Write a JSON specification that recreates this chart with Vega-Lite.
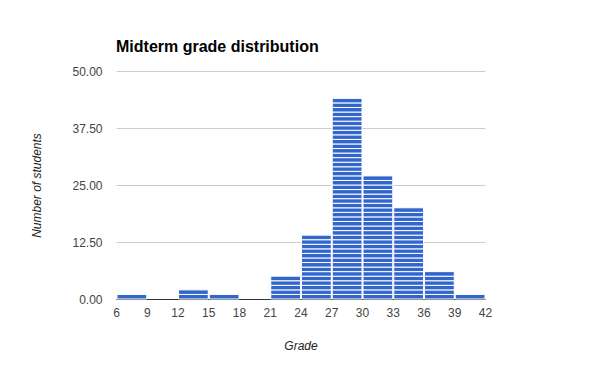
{
  "$schema": "https://vega.github.io/schema/vega-lite/v6.json",
  "width": 369,
  "height": 228,
  "autosize": "none",
  "padding": {"left": 116, "top": 71, "right": 115, "bottom": 72},
  "background": "white",
  "title": {
    "text": "Midterm grade distribution",
    "anchor": "start",
    "frame": "group",
    "font": "Arial",
    "fontSize": 16,
    "fontWeight": "bold",
    "color": "#000000",
    "baseline": "alphabetic",
    "offset": -3
  },
  "config": {
    "view": {"stroke": null},
    "font": "Arial"
  },
  "data": {
    "values": [
      {"lo":6,"hi":9,"n":1},
      {"lo":12,"hi":15,"n":1},{"lo":12,"hi":15,"n":1},
      {"lo":15,"hi":18,"n":1},
      {"lo":21,"hi":24,"n":1},{"lo":21,"hi":24,"n":1},{"lo":21,"hi":24,"n":1},{"lo":21,"hi":24,"n":1},{"lo":21,"hi":24,"n":1},
      {"lo":24,"hi":27,"n":1},{"lo":24,"hi":27,"n":1},{"lo":24,"hi":27,"n":1},{"lo":24,"hi":27,"n":1},{"lo":24,"hi":27,"n":1},{"lo":24,"hi":27,"n":1},{"lo":24,"hi":27,"n":1},
      {"lo":24,"hi":27,"n":1},{"lo":24,"hi":27,"n":1},{"lo":24,"hi":27,"n":1},{"lo":24,"hi":27,"n":1},{"lo":24,"hi":27,"n":1},{"lo":24,"hi":27,"n":1},{"lo":24,"hi":27,"n":1},
      {"lo":27,"hi":30,"n":1},{"lo":27,"hi":30,"n":1},{"lo":27,"hi":30,"n":1},{"lo":27,"hi":30,"n":1},{"lo":27,"hi":30,"n":1},{"lo":27,"hi":30,"n":1},{"lo":27,"hi":30,"n":1},{"lo":27,"hi":30,"n":1},{"lo":27,"hi":30,"n":1},{"lo":27,"hi":30,"n":1},
      {"lo":27,"hi":30,"n":1},{"lo":27,"hi":30,"n":1},{"lo":27,"hi":30,"n":1},{"lo":27,"hi":30,"n":1},{"lo":27,"hi":30,"n":1},{"lo":27,"hi":30,"n":1},{"lo":27,"hi":30,"n":1},{"lo":27,"hi":30,"n":1},{"lo":27,"hi":30,"n":1},{"lo":27,"hi":30,"n":1},
      {"lo":27,"hi":30,"n":1},{"lo":27,"hi":30,"n":1},{"lo":27,"hi":30,"n":1},{"lo":27,"hi":30,"n":1},{"lo":27,"hi":30,"n":1},{"lo":27,"hi":30,"n":1},{"lo":27,"hi":30,"n":1},{"lo":27,"hi":30,"n":1},{"lo":27,"hi":30,"n":1},{"lo":27,"hi":30,"n":1},
      {"lo":27,"hi":30,"n":1},{"lo":27,"hi":30,"n":1},{"lo":27,"hi":30,"n":1},{"lo":27,"hi":30,"n":1},{"lo":27,"hi":30,"n":1},{"lo":27,"hi":30,"n":1},{"lo":27,"hi":30,"n":1},{"lo":27,"hi":30,"n":1},{"lo":27,"hi":30,"n":1},{"lo":27,"hi":30,"n":1},
      {"lo":27,"hi":30,"n":1},{"lo":27,"hi":30,"n":1},{"lo":27,"hi":30,"n":1},{"lo":27,"hi":30,"n":1},
      {"lo":30,"hi":33,"n":1},{"lo":30,"hi":33,"n":1},{"lo":30,"hi":33,"n":1},{"lo":30,"hi":33,"n":1},{"lo":30,"hi":33,"n":1},{"lo":30,"hi":33,"n":1},{"lo":30,"hi":33,"n":1},{"lo":30,"hi":33,"n":1},{"lo":30,"hi":33,"n":1},{"lo":30,"hi":33,"n":1},
      {"lo":30,"hi":33,"n":1},{"lo":30,"hi":33,"n":1},{"lo":30,"hi":33,"n":1},{"lo":30,"hi":33,"n":1},{"lo":30,"hi":33,"n":1},{"lo":30,"hi":33,"n":1},{"lo":30,"hi":33,"n":1},{"lo":30,"hi":33,"n":1},{"lo":30,"hi":33,"n":1},{"lo":30,"hi":33,"n":1},
      {"lo":30,"hi":33,"n":1},{"lo":30,"hi":33,"n":1},{"lo":30,"hi":33,"n":1},{"lo":30,"hi":33,"n":1},{"lo":30,"hi":33,"n":1},{"lo":30,"hi":33,"n":1},{"lo":30,"hi":33,"n":1},
      {"lo":33,"hi":36,"n":1},{"lo":33,"hi":36,"n":1},{"lo":33,"hi":36,"n":1},{"lo":33,"hi":36,"n":1},{"lo":33,"hi":36,"n":1},{"lo":33,"hi":36,"n":1},{"lo":33,"hi":36,"n":1},{"lo":33,"hi":36,"n":1},{"lo":33,"hi":36,"n":1},{"lo":33,"hi":36,"n":1},
      {"lo":33,"hi":36,"n":1},{"lo":33,"hi":36,"n":1},{"lo":33,"hi":36,"n":1},{"lo":33,"hi":36,"n":1},{"lo":33,"hi":36,"n":1},{"lo":33,"hi":36,"n":1},{"lo":33,"hi":36,"n":1},{"lo":33,"hi":36,"n":1},{"lo":33,"hi":36,"n":1},{"lo":33,"hi":36,"n":1},
      {"lo":36,"hi":39,"n":1},{"lo":36,"hi":39,"n":1},{"lo":36,"hi":39,"n":1},{"lo":36,"hi":39,"n":1},{"lo":36,"hi":39,"n":1},{"lo":36,"hi":39,"n":1},
      {"lo":39,"hi":42,"n":1}
    ]
  },
  "mark": {"type": "bar", "color": "#3366cc", "stroke": "white", "strokeWidth": 1, "binSpacing": 1},
  "encoding": {
    "x": {
      "field": "lo",
      "type": "quantitative",
      "bin": {"binned": true, "step": 3},
      "scale": {"domain": [6, 42], "nice": false, "zero": false},
      "axis": {
        "title": "Grade",
        "titleFont": "Arial",
        "titleFontSize": 12,
        "titleFontStyle": "italic",
        "titleFontWeight": "normal",
        "titleColor": "#222222",
        "titlePadding": 22,
        "values": [6,9,12,15,18,21,24,27,30,33,36,39,42],
        "labelFont": "Arial",
        "labelFontSize": 12,
        "labelColor": "#444444",
        "labelPadding": 8,
        "labelFlush": false,
        "ticks": false,
        "grid": false,
        "domainColor": "#333333",
        "domainWidth": 1
      }
    },
    "x2": {"field": "hi"},
    "y": {
      "field": "n",
      "type": "quantitative",
      "stack": "zero",
      "scale": {"domain": [0, 50], "nice": false},
      "axis": {
        "title": "Number of students",
        "titleFont": "Arial",
        "titleFontSize": 12,
        "titleFontStyle": "italic",
        "titleFontWeight": "normal",
        "titleColor": "#222222",
        "titlePadding": 28,
        "values": [0, 12.5, 25, 37.5, 50],
        "format": ".2f",
        "labelFont": "Arial",
        "labelFontSize": 12,
        "labelColor": "#444444",
        "labelPadding": 14,
        "ticks": false,
        "domain": false,
        "gridColor": "#cccccc",
        "gridWidth": 1
      }
    }
  }
}
